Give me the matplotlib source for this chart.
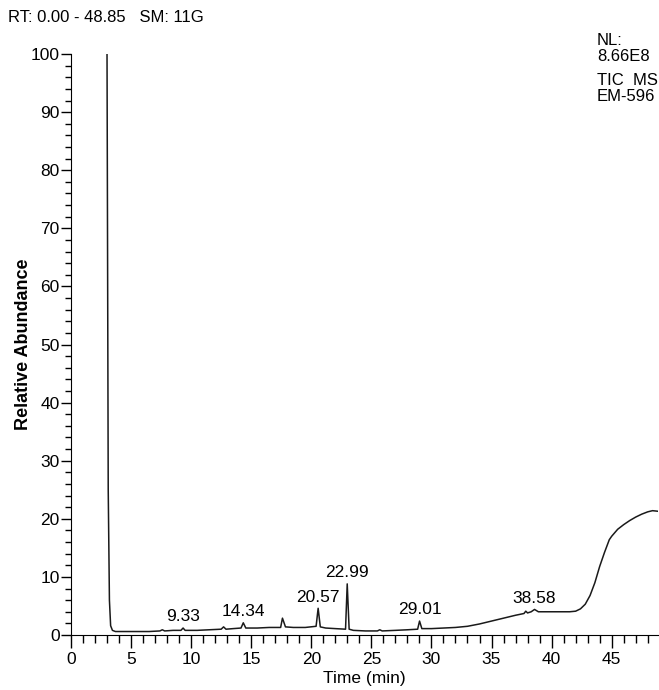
import matplotlib
matplotlib.use("Agg")
import matplotlib.pyplot as plt
from matplotlib.ticker import MultipleLocator

plt.rcParams["font.family"] = ["Liberation Sans", "DejaVu Sans"]

# chromatogram trace (time in min, relative abundance in %)
time = [3.00, 3.04, 3.10, 3.20, 3.30, 3.45, 3.70, 4.5, 5.5, 6.5, 7.4, 7.6, 7.8, 8.5,
        9.15, 9.33, 9.50, 10.5, 11.5, 12.5, 12.7, 12.9, 13.5, 14.15, 14.34, 14.55,
        15.5, 16.5, 17.45, 17.6, 17.85, 18.5, 19.5, 20.4, 20.57, 20.75, 21.2, 22.0,
        22.85, 22.99, 23.15, 23.5, 24.5, 25.5, 25.7, 25.9, 27.0, 28.0, 28.85, 29.01,
        29.2, 30.0, 31.0, 32.0, 33.0, 34.0, 35.0, 36.0, 37.0, 37.7, 37.85, 38.0,
        38.3, 38.58, 38.9, 39.5, 40.5, 41.5, 42.0, 42.4, 42.8, 43.2, 43.6, 44.0,
        44.4, 44.8, 45.0, 45.5, 46.0, 46.5, 47.0, 47.5, 48.0, 48.4, 48.85]
abundance = [100.0, 70.0, 25.0, 6.0, 1.6, 0.8, 0.6, 0.6, 0.6, 0.6, 0.7, 0.9, 0.7, 0.8,
             0.8, 1.2, 0.8, 0.8, 0.9, 1.0, 1.4, 1.0, 1.1, 1.2, 2.1, 1.2,
             1.2, 1.3, 1.3, 2.9, 1.4, 1.3, 1.3, 1.5, 4.6, 1.4, 1.2, 1.1,
             1.0, 8.8, 1.0, 0.8, 0.7, 0.7, 0.9, 0.7, 0.8, 0.9, 1.0, 2.4,
             1.1, 1.1, 1.2, 1.3, 1.5, 1.9, 2.4, 2.9, 3.4, 3.7, 4.1, 3.8,
             4.0, 4.4, 4.0, 4.0, 4.0, 4.0, 4.1, 4.5, 5.3, 6.8, 9.0, 11.8,
             14.2, 16.4, 17.0, 18.2, 19.0, 19.7, 20.3, 20.8, 21.2, 21.4, 21.3]

peak_times = [9.33, 14.34, 20.57, 22.99, 29.01, 38.58]
peak_heights = [1.2, 2.1, 4.6, 8.8, 2.4, 4.4]
peak_labels = ["9.33", "14.34", "20.57", "22.99", "29.01", "38.58"]

fig = plt.figure(figsize=(6.59, 6.90), dpi=100)
ax = fig.add_axes([0.1077, 0.0797, 0.8907, 0.842])

ax.plot(time, abundance, color="#1a1a1a", lw=1.1)

for t, h, lab in zip(peak_times, peak_heights, peak_labels):
    ax.annotate(lab, (t, h), xytext=(0, 8), textcoords="offset points",
                ha="center", va="center", fontsize=12.5)

ax.set_xlim(0, 48.85)
ax.set_ylim(0, 100)
ax.xaxis.set_major_locator(MultipleLocator(5))
ax.xaxis.set_minor_locator(MultipleLocator(1))
ax.yaxis.set_major_locator(MultipleLocator(10))
ax.yaxis.set_minor_locator(MultipleLocator(2))
ax.tick_params(axis="x", which="major", length=9, width=1, labelsize=12.5, pad=3)
ax.tick_params(axis="x", which="minor", length=6, width=1)
ax.tick_params(axis="y", which="major", length=7, width=1, labelsize=12.5, pad=1)
ax.tick_params(axis="y", which="minor", length=4, width=1)

ax.spines["top"].set_visible(False)
ax.spines["right"].set_visible(False)

ax.set_xlabel("Time (min)", fontsize=12.5, labelpad=3)
ax.set_ylabel("Relative Abundance", fontsize=13, fontweight="bold", labelpad=-1)

fig.text(0.012, 0.974, "RT: 0.00 - 48.85   SM: 11G", fontsize=12, va="center")
fig.text(0.906, 0.930, "NL:\n8.66E8", fontsize=12, va="center", linespacing=1.05)
fig.text(0.906, 0.872, "TIC  MS\nEM-596", fontsize=12, va="center", linespacing=1.05)

fig.savefig("out.png", dpi=100)
